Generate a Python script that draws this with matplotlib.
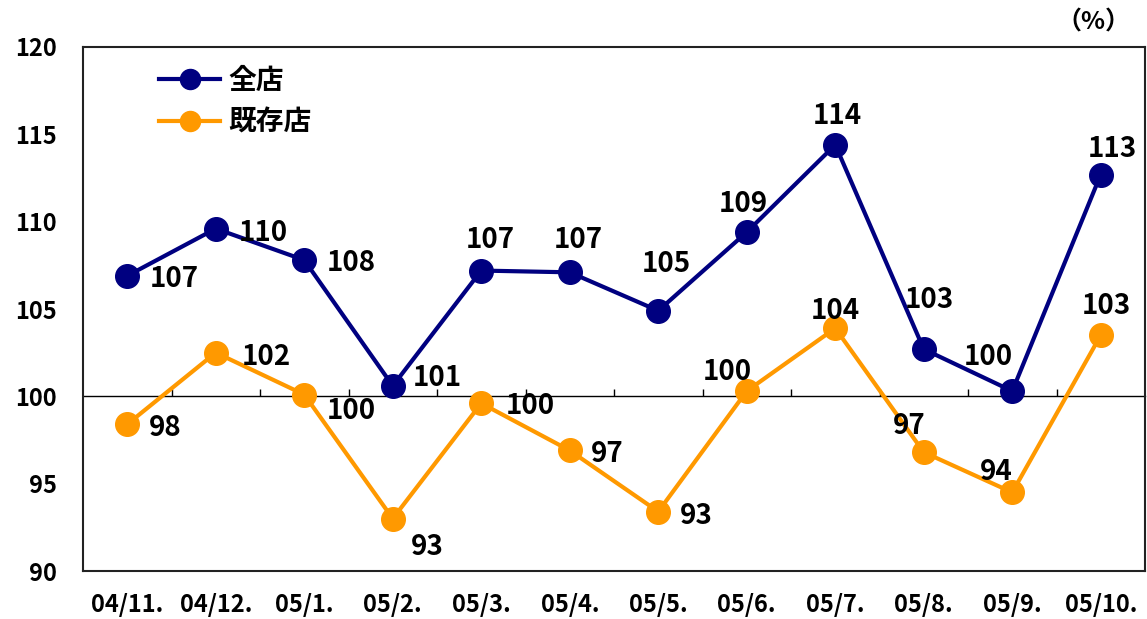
import matplotlib
matplotlib.use("Agg")
import matplotlib.pyplot as plt
import numpy as np

plt.rcParams['font.family'] = ['Noto Sans CJK JP', 'DejaVu Sans']
plt.rcParams['font.weight'] = 'bold'

# データ
months = ['04/11.', '04/12.', '05/1.', '05/2.', '05/3.', '05/4.',
          '05/5.', '05/6.', '05/7.', '05/8.', '05/9.', '05/10.']
zenten = [106.9, 109.6, 107.8, 100.6, 107.2, 107.1, 104.9, 109.4, 114.4, 102.7, 100.3, 112.7]
kizon = [98.4, 102.5, 100.1, 93.0, 99.6, 96.9, 93.4, 100.3, 103.9, 96.8, 94.5, 103.5]
zenten_labels = ['107', '110', '108', '101', '107', '107', '105', '109', '114', '103', '100', '113']
kizon_labels = ['98', '102', '100', '93', '100', '97', '93', '100', '104', '97', '94', '103']

# ラベル位置 (ピクセル)
zenten_off = [(47, -3), (48, -4), (47, -3), (45, 8), (9, 31), (9, 32),
              (8, 47), (-3, 28), (2, 29), (6, 49), (-24, 34), (12, 26)]
kizon_off = [(38, -4), (51, -4), (47, -16), (35, -28), (49, -3), (37, -4),
             (38, -4), (-19, 19), (0, 17), (-14, 26), (-16, 20), (6, 29)]

blue = '#000080'
orange = '#FF9900'

fig = plt.figure(figsize=(11.47, 6.19), dpi=100)
ax = fig.add_axes([83/1147, 48/619, 1062/1147, 524/619])

x = np.arange(len(months))
ax.plot(x, zenten, color=blue, lw=3, marker='o', ms=17, label='全店', zorder=3)
ax.plot(x, kizon, color=orange, lw=3, marker='o', ms=17, label='既存店', zorder=3)

for xi, yi, t, (dx, dy) in zip(x, zenten, zenten_labels, zenten_off):
    ax.annotate(t, (xi, yi), xytext=(dx, dy), textcoords='offset pixels',
                ha='center', va='center', fontsize=20, fontweight='bold')
for xi, yi, t, (dx, dy) in zip(x, kizon, kizon_labels, kizon_off):
    ax.annotate(t, (xi, yi), xytext=(dx, dy), textcoords='offset pixels',
                ha='center', va='center', fontsize=20, fontweight='bold')

ax.set_xlim(-0.5, len(months) - 0.5)
ax.set_ylim(90, 120)
ax.set_yticks(np.arange(90, 121, 5))
ax.set_xticks(x)
ax.set_xticklabels(months)
ax.tick_params(axis='both', length=0, labelsize=17)
ax.tick_params(axis='y', pad=19)
ax.tick_params(axis='x', pad=16)
for s in ax.spines.values():
    s.set_linewidth(1.5)
    s.set_color('#222222')

# 100 の軸線
sec = ax.secondary_xaxis(1/3)
sec.set_xticks(np.arange(0.5, len(months) - 1, 1.0))
sec.tick_params(direction='in', length=5, width=1, labelbottom=False, labeltop=False)
sec.spines['bottom'].set_linewidth(1)
sec.spines['top'].set_linewidth(1)

ax.legend(loc='upper left', bbox_to_anchor=(0.048, 1.01), frameon=False,
          fontsize=20, handlelength=2.2, handletextpad=0.3, labelspacing=0.5,
          markerscale=0.85)

fig.text(1130/1147, 1 - 22/619, '（%）', ha='right', va='center', fontsize=18, fontweight='bold')

fig.savefig('out.png', dpi=100)
